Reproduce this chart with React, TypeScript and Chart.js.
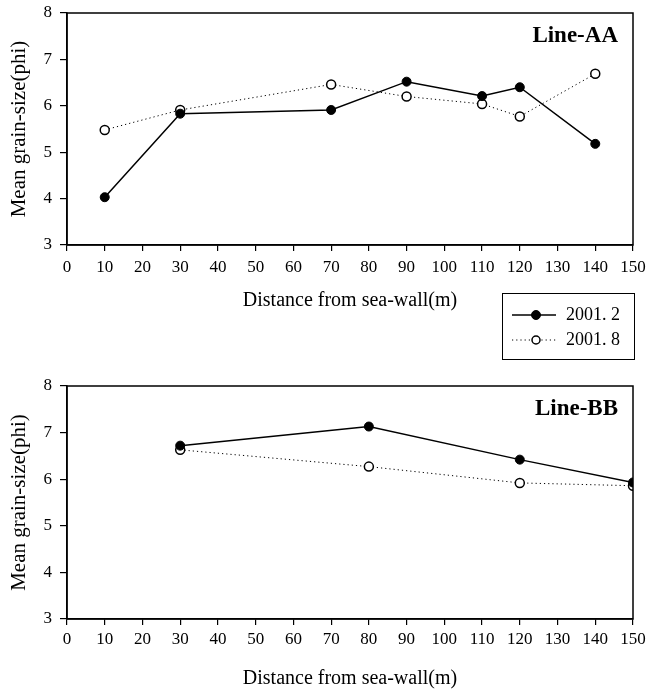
import React, { useEffect, useRef } from 'react';
import { Chart, registerables } from 'chart.js';
Chart.register(...registerables);

const seriesLabels = ['2001. 2', '2001. 8'];
const aaDistance = [10, 30, 70, 90, 110, 120, 140];
const aaFeb = [4.03, 5.83, 5.91, 6.52, 6.21, 6.4, 5.18];
const aaAug = [5.48, 5.91, 6.46, 6.2, 6.04, 5.77, 6.69];
const bbDistance = [30, 80, 120, 150];
const bbFeb = [6.72, 7.13, 6.42, 5.93];
const bbAug = [6.63, 6.27, 5.92, 5.86];
const panelTitles = ['Line-AA', 'Line-BB'];
const xAxisTitle = 'Distance from sea-wall(m)';
const yAxisTitle = 'Mean grain-size(phi)';
const xMin = 0, xMax = 150, xStep = 10;
const yMin = 3, yMax = 8, yStep = 1;

const FONT = '"Liberation Serif", "Times New Roman", serif';

function febStyle() {
  return {
    borderColor: '#000',
    borderWidth: 1.5,
    pointRadius: 4.5,
    pointBackgroundColor: '#000',
    pointBorderColor: '#000',
    pointBorderWidth: 1,
  };
}
function augStyle() {
  return {
    borderColor: '#000',
    borderWidth: 1,
    borderDash: [1.2, 3],
    pointRadius: 4.5,
    pointBackgroundColor: '#fff',
    pointBorderColor: '#000',
    pointBorderWidth: 1.5,
  };
}

const framePlugin = {
  id: 'frame',
  afterDatasetsDraw(chart: any) {
    const { ctx, chartArea } = chart;
    ctx.save();
    ctx.strokeStyle = '#000';
    ctx.lineWidth = 1.5;
    ctx.strokeRect(chartArea.left, chartArea.top, chartArea.right - chartArea.left, chartArea.bottom - chartArea.top);
    ctx.restore();
  },
};

function makePanelLabel(text: string) {
  return {
    id: 'panelLabel',
    afterDraw(chart: any) {
      const { ctx, chartArea } = chart;
      ctx.save();
      ctx.fillStyle = '#000';
      ctx.font = 'bold 23px ' + FONT;
      ctx.textAlign = 'right';
      ctx.textBaseline = 'middle';
      ctx.fillText(text, chartArea.right - 15, chartArea.top + 23);
      ctx.restore();
    },
  };
}

const legendPlugin = {
  id: 'customLegend',
  afterDraw(chart: any) {
    const { ctx } = chart;
    const bx = 502, by = 293, bw = 132, bh = 66;
    ctx.save();
    ctx.strokeStyle = '#000';
    ctx.lineWidth = 1;
    ctx.strokeRect(bx + 0.5, by + 0.5, bw, bh);
    const rows = [by + 22, by + 47];
    chart.data.datasets.forEach((ds: any, i: number) => {
      const y = rows[i];
      ctx.strokeStyle = ds.borderColor;
      ctx.lineWidth = ds.borderWidth;
      ctx.setLineDash(ds.borderDash || []);
      ctx.beginPath();
      ctx.moveTo(bx + 10, y);
      ctx.lineTo(bx + 54, y);
      ctx.stroke();
      ctx.setLineDash([]);
      ctx.beginPath();
      ctx.arc(bx + 34, y, i === 0 ? 4.5 : 4, 0, Math.PI * 2);
      ctx.fillStyle = ds.pointBackgroundColor;
      ctx.fill();
      ctx.lineWidth = ds.pointBorderWidth;
      ctx.strokeStyle = ds.pointBorderColor;
      ctx.stroke();
      ctx.fillStyle = '#000';
      ctx.font = '18px ' + FONT;
      ctx.textAlign = 'left';
      ctx.textBaseline = 'middle';
      ctx.fillText(ds.label, bx + 64, y);
    });
    ctx.restore();
  },
};

function buildConfig(dist: number[], feb: number[], aug: number[], title: string, o: any) {
  return {
    type: 'line' as const,
    data: {
      datasets: [
        { label: seriesLabels[0], data: dist.map((x, i) => ({ x, y: feb[i] })), ...febStyle() },
        { label: seriesLabels[1], data: dist.map((x, i) => ({ x, y: aug[i] })), ...augStyle() },
      ],
    },
    options: {
      animation: false as const,
      responsive: false,
      events: [],
      layout: { padding: { top: o.padTop, right: 13, left: 0, bottom: 0 } },
      plugins: { legend: { display: false }, tooltip: { enabled: false } },
      scales: {
        x: {
          type: 'linear' as const,
          min: xMin,
          max: xMax,
          afterFit: (s: any) => { s.height = o.xHeight; s.paddingLeft = 0; s.paddingRight = 0; },
          ticks: { stepSize: xStep, color: '#000', font: { size: 17, family: FONT }, padding: o.tickPad, maxRotation: 0 },
          grid: { display: true, drawOnChartArea: false, drawTicks: true, tickLength: 6, color: '#000', lineWidth: 1.2 },
          border: { display: true, color: '#000', width: 1.5 },
          title: { display: true, text: xAxisTitle, color: '#000', font: { size: 20, family: FONT }, padding: { top: 0, bottom: o.titlePad } },
        },
        y: {
          type: 'linear' as const,
          min: yMin,
          max: yMax,
          afterFit: (s: any) => { s.width = 67; s.paddingTop = 0; s.paddingBottom = 0; },
          ticks: { stepSize: yStep, color: '#000', font: { size: 17, family: FONT }, padding: 8 },
          grid: { display: true, drawOnChartArea: false, drawTicks: true, tickLength: 7, color: '#000', lineWidth: 1.2 },
          border: { display: true, color: '#000', width: 1.5 },
          title: { display: true, text: yAxisTitle, color: '#000', font: { size: 21, family: FONT }, padding: { top: 7, bottom: 0 } },
        },
      },
    },
    plugins: o.legend ? [framePlugin, makePanelLabel(title), legendPlugin] : [framePlugin, makePanelLabel(title)],
  };
}

export default function App() {
  const topRef = useRef<HTMLCanvasElement>(null);
  const botRef = useRef<HTMLCanvasElement>(null);
  useEffect(() => {
    const c1 = new Chart(topRef.current!, buildConfig(aaDistance, aaFeb, aaAug, panelTitles[0], { padTop: 13, xHeight: 125, titlePad: 57, tickPad: 6, legend: true }) as any);
    const c2 = new Chart(botRef.current!, buildConfig(bbDistance, bbFeb, bbAug, panelTitles[1], { padTop: 16, xHeight: 74, titlePad: 2, tickPad: 4, legend: false }) as any);
    return () => { c1.destroy(); c2.destroy(); };
  }, []);
  return (
    <div style={{ position: 'absolute', left: 0, top: 0, width: 646, height: 693, background: '#fff' }}>
      <canvas ref={topRef} width={646} height={370} style={{ position: 'absolute', left: 0, top: 0 }} />
      <canvas ref={botRef} width={646} height={323} style={{ position: 'absolute', left: 0, top: 370 }} />
    </div>
  );
}
